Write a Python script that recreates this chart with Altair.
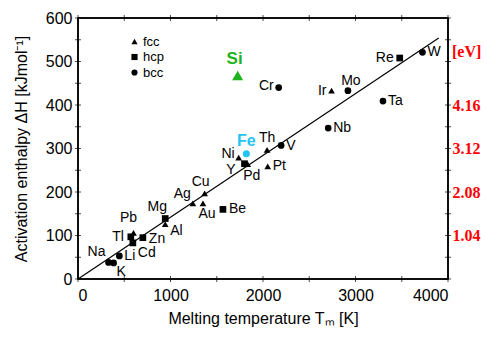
import altair as alt
import pandas as pd

# ---------------- data ----------------
elements = ["Na", "K", "Li", "Tl", "Pb", "Cd", "Zn", "Mg", "Al", "Ag", "Au", "Cu", "Be",
            "Ni", "Y", "Pd", "Pt", "Th", "V", "Cr", "Ir", "Mo", "Nb", "Ta", "Re", "W",
            "Fe", "Si"]
structure = ["bcc", "bcc", "bcc", "hcp", "fcc", "hcp", "hcp", "hcp", "fcc", "fcc", "fcc", "fcc", "hcp",
             "fcc", "hcp", "fcc", "fcc", "fcc", "bcc", "bcc", "fcc", "bcc", "bcc", "bcc", "hcp", "bcc",
             "bcc", "diamond"]
melt_T = [330, 385, 447, 571, 600, 593, 701, 943, 943, 1242, 1351, 1369, 1567,
          1737, 1800, 1835, 2051, 2044, 2196, 2170, 2741, 2918, 2705, 3297, 3478, 3724,
          1820, 1726]
enthalpy = [38, 37, 53, 97, 106, 83, 95, 139, 126, 174, 174, 197, 160,
            279, 265, 264, 259, 297, 307, 440, 433, 433, 347, 409, 508, 521,
            288, 468]

line_T = [0, 3900]
line_H = [0, 554]

x_min, x_max = 0, 4000
y_min, y_max = 0, 600
x_label_vals = [0, 1000, 2000, 3000, 4000]
x_tick_vals = [0, 500, 1000, 1500, 2000, 2500, 3000, 3500, 4000]
y_label_vals = [0, 100, 200, 300, 400, 500, 600]
y_tick_vals = [0, 50, 100, 150, 200, 250, 300, 350, 400, 450, 500, 550, 600]
ev_vals = [100, 200, 300, 400]
ev_text = ["1.04", "2.08", "3.12", "4.16"]
ev_unit = "[eV]"
ev_unit_at = 522

struct_domain = ["fcc", "hcp", "bcc"]

# ---------------- styling (kept apart from the data) ----------------
W, H = 370, 261
FONT = "Liberation Sans"
SERIF = "Liberation Serif"
RED = "#ff0000"
GREEN = "#1db31d"
CYAN = "#22c4f4"
LBL = 14

# label placement: (align, dx, dy)
label_style = {
    "Na": ("right", -3, -10), "K": ("left", 3, 9), "Li": ("left", 5, 0),
    "Tl": ("right", -7, 0), "Pb": ("center", -5, -15), "Cd": ("left", 5, 10),
    "Zn": ("left", 6, 1), "Mg": ("center", -8, -12), "Al": ("left", 5, 7),
    "Ag": ("right", -2, -9), "Au": ("center", 4, 11), "Cu": ("center", -4, -11),
    "Be": ("left", 6, 0), "Ni": ("right", -4, -4), "Y": ("right", -9, 6),
    "Pd": ("center", 4, 12), "Pt": ("left", 5, 0), "Th": ("center", 0, -12),
    "V": ("left", 5, 1), "Cr": ("right", -5, -2), "Ir": ("right", -5, 0),
    "Mo": ("center", 3, -10), "Nb": ("left", 5, 0), "Ta": ("left", 5, 0),
    "Re": ("right", -6, 0), "W": ("left", 5, 0),
}

df = pd.DataFrame({"el": elements, "structure": structure, "T": melt_T, "dH": enthalpy})
df_line = pd.DataFrame({"T": line_T, "dH": line_H})
df_xt = pd.DataFrame({"v": x_tick_vals})
df_yt = pd.DataFrame({"v": y_tick_vals})

xs = alt.Scale(domain=[x_min, x_max], nice=False, zero=False)
ys = alt.Scale(domain=[y_min, y_max], nice=False, zero=False)

base = alt.Chart(df)

line = alt.Chart(df_line).mark_line(color="black", strokeWidth=1.2).encode(
    x=alt.X("T:Q", scale=xs,
            axis=alt.Axis(values=x_label_vals, format="d", title="Melting temperature Tₘ [K]",
                          domain=False, ticks=False, grid=False, labelFontSize=16,
                          labelPadding=8, titleFontSize=16, titleFontWeight="normal",
                          titlePadding=7, labelFont=FONT, titleFont=FONT, labelColor="black",
                          titleColor="black")),
    y=alt.Y("dH:Q", scale=ys,
            axis=alt.Axis(values=y_label_vals, format="d", title="Activation enthalpy ΔH [kJmol⁻¹]",
                          domain=False, ticks=False, grid=False, labelFontSize=16,
                          labelPadding=6, titleFontSize=16, titleFontWeight="normal",
                          titlePadding=16, labelFont=FONT, titleFont=FONT, labelColor="black",
                          titleColor="black")),
)

main_pts = base.transform_filter(
    alt.FieldOneOfPredicate(field="structure", oneOf=struct_domain)
).transform_filter("datum.el != 'Fe'").mark_point(filled=True, color="black", opacity=1, size=45).encode(
    x=alt.X("T:Q", scale=xs, axis=None),
    y=alt.Y("dH:Q", scale=ys, axis=None),
    shape=alt.Shape("structure:N",
                    scale=alt.Scale(domain=struct_domain, range=["triangle-up", "square", "circle"]),
                    legend=alt.Legend(title=None, orient="none", legendX=50, legendY=17,
                                      symbolSize=38, symbolFillColor="black", symbolStrokeColor="black",
                                      symbolStrokeWidth=0, labelFontSize=13, labelFont=FONT,
                                      labelColor="black", labelOffset=2, rowPadding=1.5, padding=0)),
)

fe_pt = base.transform_filter("datum.el == 'Fe'").mark_circle(color=CYAN, opacity=1, size=50).encode(
    x=alt.X("T:Q", scale=xs, axis=None), y=alt.Y("dH:Q", scale=ys, axis=None))
si_pt = base.transform_filter("datum.el == 'Si'").mark_point(
    shape="triangle-up", filled=True, color=GREEN, opacity=1, size=120).encode(
    x=alt.X("T:Q", scale=xs, axis=None), y=alt.Y("dH:Q", scale=ys, axis=None))

layers = [line, main_pts, fe_pt, si_pt]

for name, (al, dx, dy) in label_style.items():
    layers.append(
        base.transform_filter(alt.datum.el == name).mark_text(
            align=al, baseline="middle", dx=dx, dy=dy, font=FONT, fontSize=LBL, color="black"
        ).encode(x=alt.X("T:Q", scale=xs, axis=None), y=alt.Y("dH:Q", scale=ys, axis=None),
                 text="el:N")
    )

layers.append(base.transform_filter("datum.el == 'Fe'").mark_text(
    align="center", baseline="middle", dx=0, dy=-13, font=FONT, fontSize=16, fontWeight="bold",
    color=CYAN).encode(x=alt.X("T:Q", scale=xs, axis=None), y=alt.Y("dH:Q", scale=ys, axis=None),
                       text="el:N"))
layers.append(base.transform_filter("datum.el == 'Si'").mark_text(
    align="center", baseline="middle", dx=-3, dy=-16, font=FONT, fontSize=17, fontWeight="bold",
    color=GREEN).encode(x=alt.X("T:Q", scale=xs, axis=None), y=alt.Y("dH:Q", scale=ys, axis=None),
                        text="el:N"))

# inward ticks (tick length in pixels)
TK = 3
bottom_ticks = alt.Chart(df_xt).mark_tick(color="black", thickness=1, size=2 * TK, orient="vertical").encode(
    x=alt.X("v:Q", scale=xs, axis=None), y=alt.Y("yy:Q", scale=ys, axis=None)
).transform_calculate(yy=str(y_min))
top_ticks = alt.Chart(df_xt).mark_tick(color="black", thickness=1, size=2 * TK, orient="vertical").encode(
    x=alt.X("v:Q", scale=xs, axis=None), y=alt.Y("yy:Q", scale=ys, axis=None)
).transform_calculate(yy=str(y_max))
left_ticks = alt.Chart(df_yt).mark_tick(color="black", thickness=1, size=2 * TK, orient="horizontal").encode(
    y=alt.Y("v:Q", scale=ys, axis=None), x=alt.X("xx:Q", scale=xs, axis=None)
).transform_calculate(xx=str(x_min))

ev_expr = "''"
for v, t in zip(reversed(ev_vals), reversed(ev_text)):
    ev_expr = f"datum.value == {v} ? '{t}' : ({ev_expr})"

right_ticks = alt.Chart(df_yt).mark_tick(color="black", thickness=1, size=2 * TK, orient="horizontal").encode(
    y=alt.Y("v:Q", scale=ys,
            axis=alt.Axis(orient="right", values=ev_vals, labelExpr=ev_expr, title=None,
                          domain=False, ticks=False, grid=False, labelColor=RED,
                          labelFont=SERIF, labelFontWeight="bold", labelFontSize=16,
                          labelPadding=4)),
    x=alt.X("xx:Q", scale=xs, axis=None)
).transform_calculate(xx=str(x_max))

ev_label = alt.Chart(pd.DataFrame({"v": [ev_unit_at], "t": [ev_unit], "xx": [x_max]})).mark_text(
    align="left", baseline="middle", font=SERIF, fontWeight="bold", fontSize=16, color=RED, dx=4
).encode(x=alt.X("xx:Q", scale=xs, axis=None), y=alt.Y("v:Q", scale=ys, axis=None), text="t:N")

# frame: four rules along the scale limits
df_frame = pd.DataFrame({
    "x1": [x_min, x_min, x_min, x_max], "x2": [x_max, x_max, x_min, x_max],
    "y1": [y_min, y_max, y_min, y_min], "y2": [y_min, y_max, y_max, y_max],
})
frame = alt.Chart(df_frame).mark_rule(color="black", strokeWidth=1.5).encode(
    x=alt.X("x1:Q", scale=xs, axis=None), x2="x2:Q",
    y=alt.Y("y1:Q", scale=ys, axis=None), y2="y2:Q")

layers += [bottom_ticks, top_ticks, left_ticks, right_ticks, ev_label, frame]

chart = alt.layer(*layers).resolve_axis(y="independent", x="independent").resolve_scale(
    y="shared", x="shared").properties(
    width=W, height=H,
    padding={"left": 78, "top": 18, "right": 39, "bottom": 59},
    autosize=alt.AutoSizeParams(type="none"),
    background="white",
).configure_view(stroke="black", strokeWidth=1.5)

chart.save("out.html", embed_options={"renderer": "svg", "actions": False})
